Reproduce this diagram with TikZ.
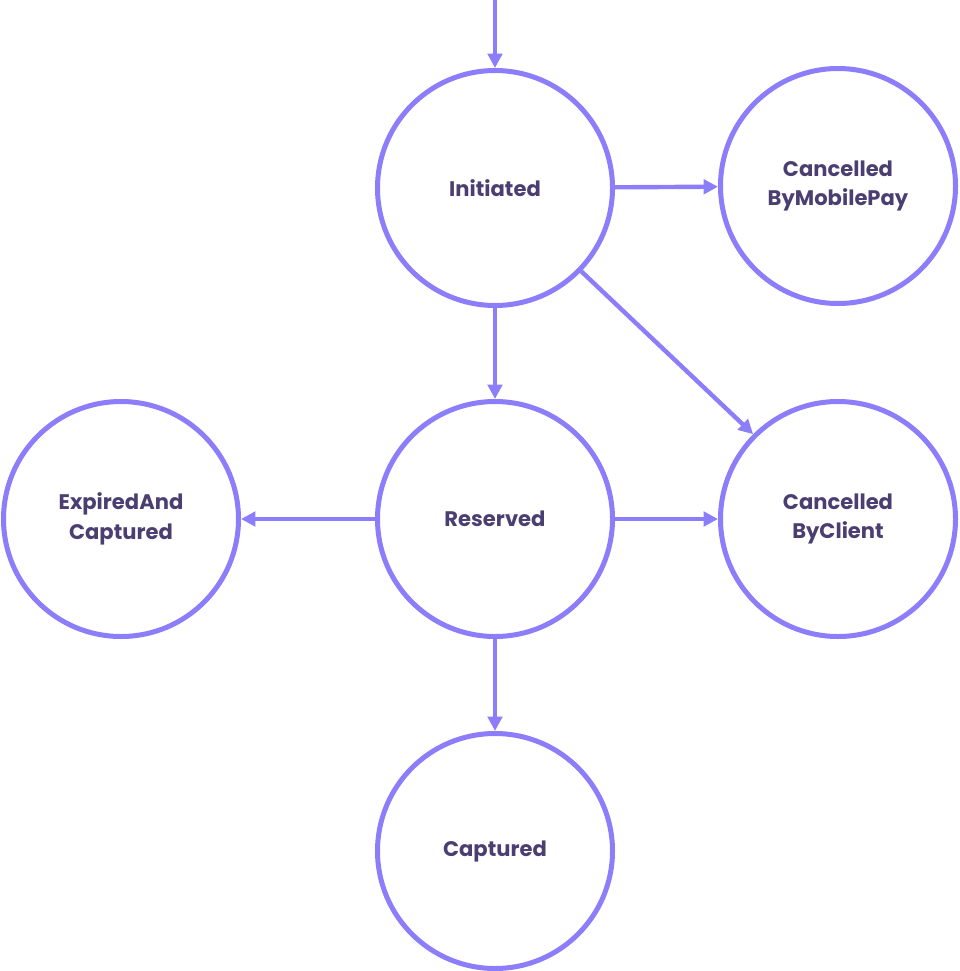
\documentclass[tikz,border=0pt]{standalone}
\usepackage{fontspec}
\setmainfont{Poppins}
\usetikzlibrary{positioning,arrows.meta}
\definecolor{ringpurple}{HTML}{8C7DFA}
\definecolor{labelpurple}{HTML}{4B3F72}

\begin{document}
\begin{tikzpicture}[
    state/.style={circle, draw=ringpurple, line width=0.125cm, minimum size=5.875cm, align=center, text=labelpurple, font=\fontsize{15}{21}\selectfont\bfseries, inner sep=0pt},
    arrow/.style={-{Triangle[length=0.36cm, width=0.36cm]}, draw=ringpurple, line width=0.11cm}
]
    \useasboundingbox (0,0) rectangle (23.975,-24.275);

    % States
    \node[state] (initiated) at (12.375, -4.7) {Initiated};
    \node[state] (mobilepay) at (20.95, -4.65) {Cancelled\\ByMobilePay};
    \node[state] (reserved) at (12.375, -12.975) {Reserved};
    \node[state] (expired) at (3.025, -12.975) {ExpiredAnd\\Captured};
    \node[state] (client) at (20.95, -12.975) {Cancelled\\ByClient};
    \node[state] (captured) at (12.375, -21.275) {Captured};

    % Entry
    \coordinate (entry) at (12.375, 0);

    \draw[arrow] (entry) -- (initiated);
    \draw[arrow] (initiated) -- (mobilepay);
    \draw[arrow] (initiated.-44) -- (client.135);
    \draw[arrow] (initiated) -- (reserved);
    \draw[arrow] (reserved) -- (expired);
    \draw[arrow] (reserved) -- (client);
    \draw[arrow] (reserved) -- (captured);
\end{tikzpicture}
\end{document}
